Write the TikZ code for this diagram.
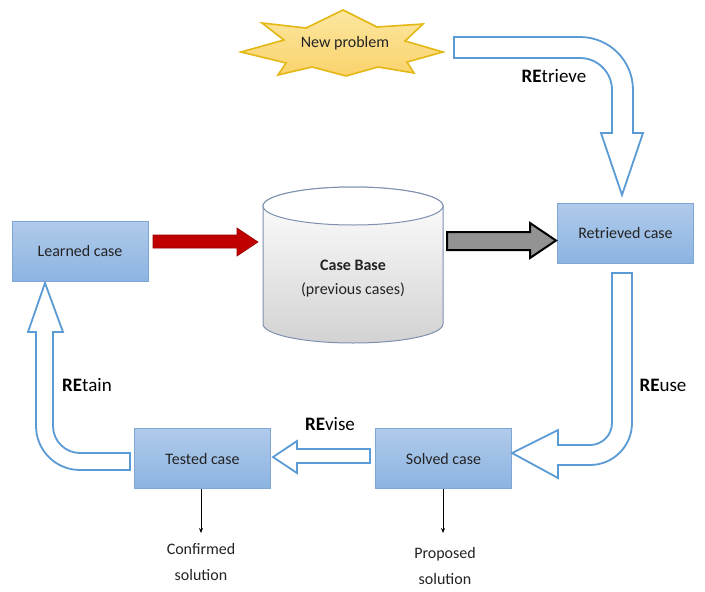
\documentclass[tikz,border=0pt]{standalone}
\usepackage{fontspec}
\setmainfont{Carlito}
\usetikzlibrary{arrows.meta}
\definecolor{boxtop}{RGB}{176,202,234}
\definecolor{boxbot}{RGB}{140,180,226}
\definecolor{boxline}{RGB}{126,166,214}
\definecolor{hollow}{RGB}{91,155,213}
\definecolor{starfill}{RGB}{250,220,120}
\definecolor{starline}{RGB}{228,184,20}
\definecolor{cylline}{RGB}{125,145,175}
\definecolor{darkred}{RGB}{192,0,0}
\definecolor{txt}{RGB}{35,35,35}
\tikzset{
  casebox/.style={draw=boxline, line width=1pt, top color=boxtop, bottom color=boxbot,
    minimum width=136pt, minimum height=60pt, inner sep=0pt, text=txt,
    font=\fontsize{16}{18}\selectfont},
  hollowarrow/.style={draw=hollow, line width=1.8pt, fill=white, line join=miter},
  relabel/.style={font=\fontsize{19}{21}\selectfont, text=black},
  smalltext/.style={font=\fontsize{16}{26}\selectfont, text=txt, align=center},
  thinarrow/.style={draw=black, line width=0.8pt, -{Stealth[length=5pt,width=4pt]}}
}
\begin{document}
\begin{tikzpicture}[x=1pt,y=-1pt]
\useasboundingbox[fill=white] (0,0) rectangle (705,592);

% star
\path[draw=starline, line width=1.6pt, top color=starfill!70!white, bottom color=starfill!90!orange, line join=miter]
  (241,52) -- (284,40) -- (262,23) -- (306,28) -- (343,10) -- (377,27) -- (423,24) -- (405,41)
  -- (443,52) -- (407,62) -- (414,73) -- (378,67) -- (346,76) -- (312,67) -- (278,75) -- (286,63) -- cycle;
\node[font=\fontsize{16}{18}\selectfont, text=txt] (newprob) at (345,43) {New problem};

% boxes
\node[casebox] (learned) at (80,251) {Learned case};
\node[casebox] (retrieved) at (625.5,233) {Retrieved case};
\node[casebox] (solved) at (443.5,458.5) {Solved case};
\node[casebox] (tested) at (202.5,458.5) {Tested case};

% cylinder
\path[draw=cylline, line width=1pt, top color=white, bottom color=gray!35]
  (263,206) -- (263,324) arc[start angle=180, end angle=0, x radius=90, y radius=19]
  -- (443,206) arc[start angle=0, end angle=-180, x radius=90, y radius=19] -- cycle;
\path[draw=cylline, line width=1pt, fill=white] (353,206) ellipse[x radius=90, y radius=19];
\node[font=\fontsize{16}{18}\selectfont, text=txt] (cb1) at (353,265) {\textbf{Case Base}};
\node[font=\fontsize{16}{18}\selectfont, text=txt] (cb2) at (353,290) {(previous cases)};

% red arrow
\path[fill=darkred, draw=darkred!80!black, line width=0.6pt]
  (153,235) -- (237,235) -- (237,228) -- (258,242) -- (237,256) -- (237,248) -- (153,248) -- cycle;

% gray arrow
\path[fill=gray!85, draw=black, line width=2pt, line join=miter]
  (447,232) -- (530,232) -- (530,223) -- (556,240.5) -- (530,258) -- (530,250) -- (447,250) -- cycle;

% retrieve arrow
\path[hollowarrow]
  (454,37) -- (580,37) .. controls (609.3,37) and (633,60.7) .. (633,90) -- (633,133)
  -- (643,133) -- (622,195) -- (601,133) -- (612,133) -- (612,90)
  .. controls (612,72.3) and (597.7,58) .. (580,58) -- (454,58) -- cycle;
\node[relabel] (lretrieve) at (554,76) {\textbf{RE}trieve};

% reuse arrow
\path[hollowarrow]
  (612,273) -- (632,273) -- (632,423) .. controls (632,446.2) and (613.2,465) .. (590,465)
  -- (558,465) -- (558,478) -- (512,453) -- (558,430) -- (558,445) -- (590,445)
  .. controls (602.1,445) and (612,435.1) .. (612,423) -- cycle;
\node[relabel] (lreuse) at (663,385) {\textbf{RE}use};

% revise arrow
\path[hollowarrow]
  (370,449) -- (297,449) -- (297,441) -- (273,457) -- (297,473) -- (297,463) -- (370,463) -- cycle;
\node[relabel] (lrevise) at (330,424) {\textbf{RE}vise};

% retain arrow
\path[hollowarrow]
  (130,453) -- (80,453) .. controls (65.1,453) and (53,440.9) .. (53,426) -- (53,332)
  -- (63,332) -- (45,283) -- (28,332) -- (36,332) -- (36,426)
  .. controls (36,450.3) and (55.7,470) .. (80,470) -- (130,470) -- cycle;
\node[relabel] (lretain) at (87,385) {\textbf{RE}tain};

% outputs
\node[smalltext] (confirmed) at (201,562) {Confirmed\\solution};
\node[smalltext] (proposed) at (445,566) {Proposed\\solution};
\coordinate (tend) at (201,533);
\coordinate (send) at (443,533);
\draw[thinarrow] (tested.south -| tend) -- (tend);
\draw[thinarrow] (solved.south -| send) -- (send);
\end{tikzpicture}
\end{document}
